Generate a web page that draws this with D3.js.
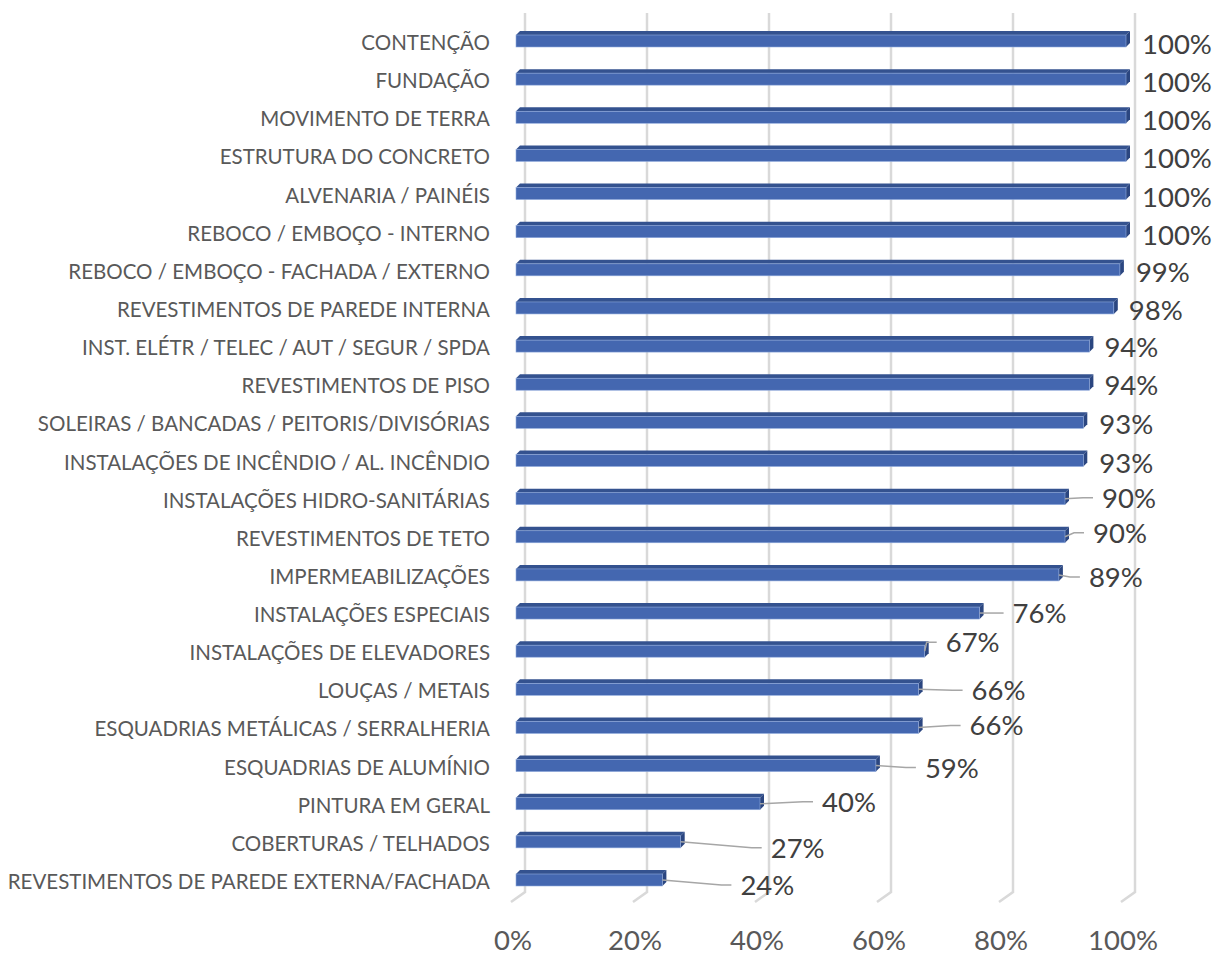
<!DOCTYPE html>
<html>
<head>
<meta charset="utf-8">
<script src="https://cdn.jsdelivr.net/npm/d3@7"></script>
<style>
  body { margin: 0; background: #fff; }
  text { font-family: Lato, "Open Sans", sans-serif; }
</style>
</head>
<body>
<div class="visArea"></div>
<script>
// chart data, top to bottom
var categories = [
  "CONTENÇÃO",
  "FUNDAÇÃO",
  "MOVIMENTO DE TERRA",
  "ESTRUTURA DO CONCRETO",
  "ALVENARIA / PAINÉIS",
  "REBOCO / EMBOÇO - INTERNO",
  "REBOCO / EMBOÇO - FACHADA / EXTERNO",
  "REVESTIMENTOS DE PAREDE INTERNA",
  "INST. ELÉTR / TELEC / AUT / SEGUR / SPDA",
  "REVESTIMENTOS DE PISO",
  "SOLEIRAS / BANCADAS / PEITORIS/DIVISÓRIAS",
  "INSTALAÇÕES DE INCÊNDIO / AL. INCÊNDIO",
  "INSTALAÇÕES HIDRO-SANITÁRIAS",
  "REVESTIMENTOS DE TETO",
  "IMPERMEABILIZAÇÕES",
  "INSTALAÇÕES ESPECIAIS",
  "INSTALAÇÕES DE ELEVADORES",
  "LOUÇAS / METAIS",
  "ESQUADRIAS METÁLICAS / SERRALHERIA",
  "ESQUADRIAS DE ALUMÍNIO",
  "PINTURA EM GERAL",
  "COBERTURAS / TELHADOS",
  "REVESTIMENTOS DE PAREDE EXTERNA/FACHADA"
];
var values = [1.00, 1.00, 1.00, 1.00, 1.00, 1.00, 0.99, 0.98, 0.94, 0.94, 0.93, 0.93,
  0.90, 0.90, 0.89, 0.76, 0.67, 0.66, 0.66, 0.59, 0.40, 0.27, 0.24];
var ticks = [0, 0.2, 0.4, 0.6, 0.8, 1.0];

// where Excel dropped each data label, relative to the bar end
var labelDx = [12, 12, 12, 12, 12, 12, 12, 11, 11, 11, 12, 12, 33, 24, 26, 29, 17, 49, 47, 45, 58, 86, 74];
var labelDy = [3, 3, 3, 3, 3, 3, 2, 2, 1, 1, 2, 2, -1, -4, 2, 0, -9, 1, -2, 2, -2, 6, 5];

var width = 1217, height = 956;
var depth = 4;          // bar 3d depth
var wallDx = 9;         // back wall offset
var barH = 12;

var svg = d3.select('.visArea')
  .append('svg')
  .attr('width', width)
  .attr('height', height);

var x = d3.scaleLinear().domain([0, 1]).range([516, 1126]);
var y = d3.scalePoint().domain(categories).range([41, 880]);

// back wall gridlines with the floor corner
svg.selectAll('.grid')
  .data(ticks)
  .enter()
  .append('path')
  .attr('class', 'grid')
  .attr('d', d => {
    var gx = x(d) + wallDx;
    return 'M' + gx + ',13 L' + gx + ',892 L' + (gx - 14) + ',902';
  })
  .style('fill', 'none')
  .style('stroke', '#d9d9d9')
  .style('stroke-width', 2.5);

// tick labels
svg.selectAll('.tick')
  .data(ticks)
  .enter()
  .append('text')
  .attr('class', 'tick')
  .attr('x', d => x(d) - 3)
  .attr('y', 950)
  .attr('text-anchor', 'middle')
  .style('font-size', '27.5px')
  .style('fill', '#595959')
  .text(d3.format('.0%'));

// category labels
svg.selectAll('.cat')
  .data(categories)
  .enter()
  .append('text')
  .attr('class', 'cat')
  .attr('x', 490)
  .attr('y', d => y(d) + 9)
  .attr('text-anchor', 'end')
  .style('font-size', '20.5px')
  .style('fill', '#595959')
  .text(d => d);

var rows = categories.map((c, i) => ({name: c, value: values[i], i: i}));

var bars = svg.selectAll('.bar')
  .data(rows)
  .enter()
  .append('g')
  .attr('class', 'bar');

// top face
bars.append('path')
  .attr('d', d => {
    var x0 = x(0), x1 = x(d.value), t = y(d.name) - barH / 2;
    return 'M' + x0 + ',' + t + ' L' + (x0 + depth) + ',' + (t - depth) +
      ' L' + (x1 + depth) + ',' + (t - depth) + ' L' + x1 + ',' + t + 'Z';
  })
  .style('fill', '#34528f');

// end face
bars.append('path')
  .attr('d', d => {
    var x1 = x(d.value), t = y(d.name) - barH / 2, b = t + barH;
    return 'M' + x1 + ',' + t + ' L' + (x1 + depth) + ',' + (t - depth) +
      ' L' + (x1 + depth) + ',' + (b - depth) + ' L' + x1 + ',' + b + 'Z';
  })
  .style('fill', '#2b4680');

// front face
bars.append('rect')
  .attr('x', x(0))
  .attr('y', d => y(d.name) - barH / 2)
  .attr('width', d => x(d.value) - x(0))
  .attr('height', barH)
  .style('fill', '#4467b0')
  .style('stroke', '#8faadc')
  .style('stroke-width', 0.6);

// leader lines for labels pushed away from the bar
bars.filter(d => labelDx[d.i] > 15)
  .append('path')
  .attr('d', d => {
    var sx = x(d.value), sy = y(d.name);
    var tx = x(d.value) + depth + labelDx[d.i], ty = y(d.name) + labelDy[d.i];
    return 'M' + sx + ',' + sy + ' L' + (tx - 19) + ',' + ty + ' L' + (tx - 9) + ',' + ty;
  })
  .style('fill', 'none')
  .style('stroke', '#a6a6a6')
  .style('stroke-width', 1.5);

// data labels
bars.append('text')
  .attr('x', d => x(d.value) + depth + labelDx[d.i])
  .attr('y', d => y(d.name) + labelDy[d.i] + 10)
  .style('font-size', '27.5px')
  .style('fill', '#404040')
  .text(d => d3.format('.0%')(d.value));
</script>
</body>
</html>
